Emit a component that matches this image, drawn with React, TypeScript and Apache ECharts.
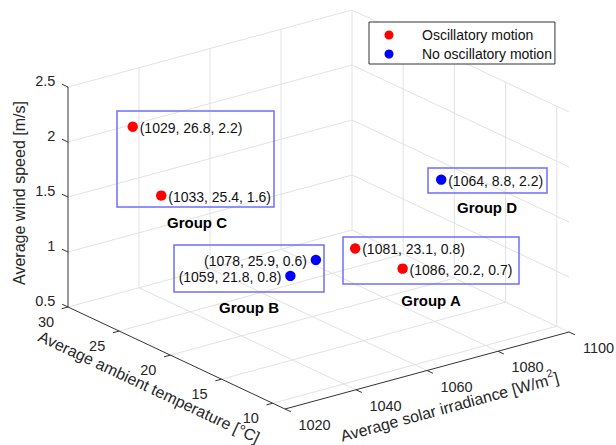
import React, { useEffect, useRef } from "react";
import * as echarts from "echarts";

// ---------- data ----------
const irradiance = [1029, 1033, 1078, 1059, 1081, 1086, 1064]; // W/m^2
const temperature = [26.8, 25.4, 25.9, 21.8, 23.1, 20.2, 8.8]; // °C
const windSpeed = [2.2, 1.6, 0.6, 0.8, 0.8, 0.7, 2.2]; // m/s
const oscillatory = [true, true, false, false, true, true, false];
const groupOf = ["C", "C", "B", "B", "A", "A", "D"];

const xTicks = [1020, 1040, 1060, 1080, 1100];
const tTicks = [10, 15, 20, 25, 30];
const zTicks = [0.5, 1, 1.5, 2, 2.5];
const zTickLabels = ["0.5", "1", "1.5", "2", "2.5"];
const seriesNames = ["Oscillatory motion", "No oscillatory motion"];
const groupNames = ["A", "B", "C", "D"];

// ---------- axis limits & view ----------
const X_LIM = [1020, 1100];
const T_LIM = [8.8, 30];
const Z_LIM = [0.5, 2.5];
// orthographic view: screen direction of each full box edge
const VIEW = { ax: 284, ay: -77, bx: 217, by: 102, cy: -220 };
const U_RANGE = [0, VIEW.ax + VIEW.bx];
const V_RANGE = [VIEW.ay + VIEW.cy, VIEW.by];

const FONT = '"Liberation Sans", Arial, Helvetica, sans-serif';
const GRID_COLOR = "#e2e2e2";
const AXIS_COLOR = "#333333";
const TEXT_COLOR = "#262626";
const BOX_COLOR = "#6f6fff";
const LEFT_LABEL_GROUPS = ["B"];

// annotation rectangles / labels (figure pixel layout, like MATLAB annotations)
const GROUP_LAYOUT: Record<string, { box: number[]; label: number[] }> = {
  A: { box: [343, 237, 176, 47], label: [431, 300] },
  B: { box: [174, 245, 150, 47], label: [249, 307] },
  C: { box: [117, 111, 157, 96], label: [197, 222] },
  D: { box: [428, 168, 119, 25], label: [487, 207] },
};

function proj(X: number, T: number, Z: number): number[] {
  const a = (X - X_LIM[0]) / (X_LIM[1] - X_LIM[0]);
  const b = (T_LIM[1] - T) / (T_LIM[1] - T_LIM[0]);
  const c = (Z - Z_LIM[0]) / (Z_LIM[1] - Z_LIM[0]);
  return [VIEW.ax * a + VIEW.bx * b, VIEW.ay * a + VIEW.by * b + VIEW.cy * c];
}

function unit(x: number, y: number) {
  const l = Math.hypot(x, y);
  return [x / l, y / l];
}

function frameRenderItem(params: any, api: any) {
  const P = (X: number, T: number, Z: number) => api.coord(proj(X, T, Z));
  const children: any[] = [];
  const [x0, x1] = X_LIM;
  const [t0, t1] = T_LIM;
  const [z0, z1] = Z_LIM;
  const line = (p: number[], q: number[], stroke: string, w: number) =>
    children.push({
      type: "line",
      shape: { x1: p[0], y1: p[1], x2: q[0], y2: q[1] },
      style: { stroke, lineWidth: w },
    });
  const gl = (p: number[], q: number[]) => line(p, q, GRID_COLOR, 1);
  const al = (p: number[], q: number[]) => line(p, q, AXIS_COLOR, 1);
  const txt = (x: number, y: number, text: string, align: string, size = 14.5, extra: any = {}) =>
    children.push({
      type: "text",
      x,
      y,
      ...extra,
      style: {
        text,
        fill: TEXT_COLOR,
        fontSize: size,
        fontFamily: FONT,
        align,
        verticalAlign: "middle",
      },
    });

  // floor grid (Z = z0)
  xTicks.forEach((X) => { if (X !== x0) gl(P(X, t1, z0), P(X, t0, z0)); });
  tTicks.forEach((T) => gl(P(x0, T, z0), P(x1, T, z0)));
  // back wall (T = t1)
  xTicks.forEach((X) => { if (X !== x0) gl(P(X, t1, z0), P(X, t1, z1)); });
  zTicks.forEach((Z) => { if (Z !== z0) gl(P(x0, t1, Z), P(x1, t1, Z)); });
  // side wall (X = x1)
  tTicks.forEach((T) => { if (T !== t1) gl(P(x1, T, z0), P(x1, T, z1)); });
  zTicks.forEach((Z) => { if (Z !== z0) gl(P(x1, t1, Z), P(x1, t0, Z)); });

  const aU = unit(VIEW.ax, VIEW.ay);
  const bU = unit(VIEW.bx, VIEW.by);
  const TL = 6.5;

  // Z axis
  al(P(x0, t1, z0), P(x0, t1, z1));
  zTicks.forEach((Z, i) => {
    const p = P(x0, t1, Z);
    al(p, [p[0] - bU[0] * TL, p[1] - bU[1] * TL]);
    txt(p[0] - bU[0] * 14, p[1] - bU[1] * 14, zTickLabels[i], "right");
  });
  // T axis
  al(P(x0, t1, z0), P(x0, t0, z0));
  tTicks.forEach((T) => {
    const p = P(x0, T, z0);
    al(p, [p[0] - aU[0] * TL, p[1] - aU[1] * TL]);
    txt(p[0] - 22, p[1] + 15, String(T), "center");
  });
  // X axis
  al(P(x0, t0, z0), P(x1, t0, z0));
  xTicks.forEach((X) => {
    const p = P(X, t0, z0);
    al(p, [p[0] + bU[0] * TL, p[1] + bU[1] * TL]);
    txt(p[0] + 29.5, p[1] + 16, String(X), "center");
  });

  // axis titles
  const zMid = P(x0, t1, (z0 + z1) / 2);
  txt(19, zMid[1] - 4, "Average wind speed [m/s]", "center", 16, { rotation: Math.PI / 2 });
  const tMid = P(x0, (t0 + t1) / 2, z0);
  txt(tMid[0] - 27.5, tMid[1] + 29, "Average ambient temperature [°C]", "center", 16, {
    rotation: -Math.atan2(VIEW.by, VIEW.bx),
  });
  const xMid = P((x0 + x1) / 2, t0, z0);
  children.push({
    type: "text",
    x: xMid[0] + 22,
    y: xMid[1] + 34.5,
    rotation: Math.atan2(-VIEW.ay, VIEW.ax),
    style: {
      text: "{a|Average solar irradiance [W/m}{s|2}{a|]}",
      fill: TEXT_COLOR,
      fontFamily: FONT,
      align: "center",
      verticalAlign: "middle",
      rich: {
        a: { fontSize: 16, fontFamily: FONT, fill: TEXT_COLOR, lineHeight: 20, verticalAlign: "bottom" },
        s: { fontSize: 11, fontFamily: FONT, fill: TEXT_COLOR, lineHeight: 20, verticalAlign: "top" },
      },
    },
  });

  return { type: "group", children };
}

function pointRenderItem(color: string) {
  return (params: any, api: any) => {
    const X = api.value(0);
    const T = api.value(1);
    const Z = api.value(2);
    const i = api.value(3);
    const p = api.coord(proj(X, T, Z));
    const left = LEFT_LABEL_GROUPS.includes(groupOf[i]);
    const label = `(${irradiance[i]}, ${temperature[i].toFixed(1)}, ${windSpeed[i].toFixed(1)})`;
    return {
      type: "group",
      children: [
        { type: "circle", shape: { cx: p[0], cy: p[1], r: 5.2 }, style: { fill: color } },
        {
          type: "text",
          x: p[0] + (left ? -9 : 7),
          y: p[1] + 1,
          style: {
            text: label,
            fill: "#111111",
            fontSize: 14,
            fontFamily: FONT,
            align: left ? "right" : "left",
            verticalAlign: "middle",
          },
        },
      ],
    };
  };
}

function pointsFor(osc: boolean) {
  const out: number[][] = [];
  irradiance.forEach((x, i) => {
    if (oscillatory[i] === osc) out.push([x, temperature[i], windSpeed[i], i]);
  });
  return out;
}

export default function App() {
  const ref = useRef<HTMLDivElement>(null);
  useEffect(() => {
    if (!ref.current) return;
    const chart = echarts.init(ref.current, undefined, { renderer: "svg" });
    const graphic: any[] = [];
    groupNames.forEach((g) => {
      const L = GROUP_LAYOUT[g];
      graphic.push({
        type: "rect",
        shape: { x: L.box[0], y: L.box[1], width: L.box[2], height: L.box[3] },
        style: { fill: "none", stroke: BOX_COLOR, lineWidth: 1.5 },
        z: 1,
      });
      graphic.push({
        type: "text",
        x: L.label[0],
        y: L.label[1],
        style: {
          text: "Group " + g,
          fill: "#000000",
          fontSize: 15,
          fontWeight: "bold",
          fontFamily: FONT,
          align: "center",
          verticalAlign: "middle",
        },
        z: 1,
      });
    });
    chart.setOption({
      animation: false,
      backgroundColor: "#ffffff",
      grid: { left: 68, top: 10, width: U_RANGE[1] - U_RANGE[0], height: V_RANGE[1] - V_RANGE[0] },
      xAxis: { type: "value", min: U_RANGE[0], max: U_RANGE[1], show: false },
      yAxis: { type: "value", min: V_RANGE[0], max: V_RANGE[1], inverse: true, show: false },
      legend: {
        orient: "vertical",
        left: 369,
        top: 22,
        padding: [5, 3, 2, 15.5],
        itemGap: 3,
        itemWidth: 25,
        itemHeight: 9,
        borderColor: "#333333",
        borderWidth: 1,
        backgroundColor: "#ffffff",
        textStyle: { fontSize: 14, fontFamily: FONT, color: "#111111", lineHeight: 16, padding: [0, 0, 0, 15.5] },
        data: seriesNames.map((n) => ({ name: n, icon: "circle" })),
        selectedMode: false,
      },
      graphic,
      series: [
        {
          type: "custom",
          name: "frame",
          silent: true,
          clip: false,
          z: 0,
          data: [[0]],
          renderItem: frameRenderItem,
        },
        {
          type: "custom",
          name: seriesNames[0],
          clip: false,
          z: 3,
          itemStyle: { color: "#ff0000" },
          data: pointsFor(true),
          renderItem: pointRenderItem("#ff0000"),
        },
        {
          type: "custom",
          name: seriesNames[1],
          clip: false,
          z: 3,
          itemStyle: { color: "#0000ff" },
          data: pointsFor(false),
          renderItem: pointRenderItem("#0000ff"),
        },
      ],
    });
    return () => chart.dispose();
  }, []);
  return (
    <div
      ref={ref}
      style={{ position: "absolute", left: 0, top: 0, width: 616, height: 445, background: "#fff" }}
    />
  );
}
